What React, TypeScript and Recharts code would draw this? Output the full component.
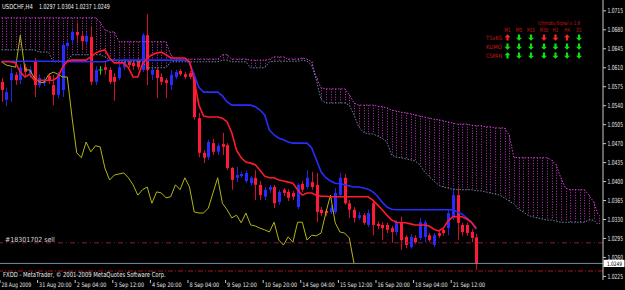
import React from 'react';
import { ComposedChart, Bar, Line, XAxis, YAxis, ReferenceLine } from 'recharts';

const FONT_NAME = 'DejaVu Sans';
const FONT = '"DejaVu Sans", Verdana, sans-serif';

const CHART_W = 625;
const CHART_H = 290;
const XAXIS_H = 10;
const YAXIS_W = 22;
const AXIS_Y = CHART_H - XAXIS_H;
const AXIS_X = CHART_W - YAXIS_W;

const symbolName = 'USDCHF,H4';
const copyrightText = 'FXDD - MetaTrader, \u00A9 2001-2009 MetaQuotes Software Corp.';

const barOpen = [
  1.0584, 1.0551, 1.0587, 1.0597, 1.0587, 1.0611, 1.0598, 1.0621, 1.0578, 1.0582,
  1.0595, 1.0578, 1.0560, 1.0569, 1.0650, 1.0661, 1.0676, 1.0669, 1.0658, 1.0667,
  1.0584, 1.0606, 1.0611, 1.0606, 1.0593, 1.0591, 1.0611, 1.0621, 1.0619, 1.0624,
  1.0606, 1.0670, 1.0597, 1.0606, 1.0593, 1.0587, 1.0578, 1.0593, 1.0604, 1.0598,
  1.0600, 1.0593, 1.0517, 1.0453, 1.0445, 1.0471, 1.0455, 1.0469, 1.0467, 1.0425,
  1.0407, 1.0410, 1.0401, 1.0397, 1.0407, 1.0394, 1.0372, 1.0385, 1.0390, 1.0362,
  1.0385, 1.0381, 1.0379, 1.0353, 1.0396, 1.0390, 1.0399, 1.0394, 1.0348, 1.0346,
  1.0344, 1.0344, 1.0375, 1.0407, 1.0360, 1.0348, 1.0333, 1.0338, 1.0320, 1.0360,
  1.0322, 1.0320, 1.0320, 1.0314, 1.0307, 1.0325, 1.0298, 1.0279, 1.0296, 1.0296,
  1.0298, 1.0301, 1.0283, 1.0305, 1.0311, 1.0314, 1.0333, 1.0375, 1.0320, 1.0320,
  1.0307, 1.0297,
];
const barHigh = [
  1.0591, 1.0573, 1.0610, 1.0602, 1.0617, 1.0617, 1.0613, 1.0628, 1.0598, 1.0593,
  1.0600, 1.0597, 1.0602, 1.0656, 1.0661, 1.0681, 1.0693, 1.0676, 1.0676, 1.0685,
  1.0613, 1.0613, 1.0621, 1.0611, 1.0600, 1.0617, 1.0626, 1.0624, 1.0624, 1.0630,
  1.0674, 1.0709, 1.0611, 1.0611, 1.0600, 1.0591, 1.0606, 1.0606, 1.0608, 1.0602,
  1.0604, 1.0600, 1.0527, 1.0458, 1.0477, 1.0479, 1.0471, 1.0490, 1.0471, 1.0427,
  1.0427, 1.0418, 1.0420, 1.0410, 1.0421, 1.0401, 1.0390, 1.0394, 1.0394, 1.0385,
  1.0388, 1.0386, 1.0383, 1.0397, 1.0401, 1.0421, 1.0418, 1.0416, 1.0353, 1.0349,
  1.0357, 1.0388, 1.0416, 1.0414, 1.0366, 1.0353, 1.0344, 1.0342, 1.0348, 1.0366,
  1.0327, 1.0325, 1.0324, 1.0318, 1.0329, 1.0335, 1.0301, 1.0303, 1.0301, 1.0333,
  1.0329, 1.0305, 1.0305, 1.0311, 1.0314, 1.0348, 1.0388, 1.0388, 1.0324, 1.0324,
  1.0312, 1.0304,
];
const barLow = [
  1.0547, 1.0539, 1.0547, 1.0578, 1.0580, 1.0595, 1.0591, 1.0556, 1.0573, 1.0576,
  1.0580, 1.0541, 1.0554, 1.0556, 1.0643, 1.0652, 1.0656, 1.0643, 1.0652, 1.0578,
  1.0578, 1.0597, 1.0597, 1.0580, 1.0549, 1.0587, 1.0606, 1.0610, 1.0606, 1.0606,
  1.0602, 1.0578, 1.0587, 1.0554, 1.0578, 1.0554, 1.0569, 1.0589, 1.0595, 1.0589,
  1.0589, 1.0514, 1.0445, 1.0434, 1.0440, 1.0449, 1.0449, 1.0449, 1.0421, 1.0385,
  1.0399, 1.0407, 1.0397, 1.0392, 1.0366, 1.0366, 1.0366, 1.0379, 1.0351, 1.0357,
  1.0373, 1.0364, 1.0366, 1.0349, 1.0381, 1.0386, 1.0385, 1.0325, 1.0336, 1.0336,
  1.0340, 1.0340, 1.0372, 1.0357, 1.0333, 1.0324, 1.0329, 1.0320, 1.0316, 1.0301,
  1.0312, 1.0292, 1.0305, 1.0287, 1.0301, 1.0274, 1.0277, 1.0276, 1.0285, 1.0292,
  1.0288, 1.0288, 1.0279, 1.0296, 1.0300, 1.0301, 1.0329, 1.0292, 1.0300, 1.0300,
  1.0288, 1.0237,
];
const barClose = [
  1.0569, 1.0565, 1.0600, 1.0587, 1.0610, 1.0602, 1.0606, 1.0578, 1.0591, 1.0587,
  1.0586, 1.0560, 1.0597, 1.0652, 1.0656, 1.0676, 1.0670, 1.0659, 1.0669, 1.0584,
  1.0606, 1.0606, 1.0606, 1.0584, 1.0584, 1.0611, 1.0621, 1.0615, 1.0613, 1.0611,
  1.0670, 1.0606, 1.0606, 1.0591, 1.0584, 1.0582, 1.0597, 1.0602, 1.0598, 1.0593,
  1.0593, 1.0519, 1.0453, 1.0444, 1.0473, 1.0455, 1.0466, 1.0464, 1.0425, 1.0403,
  1.0412, 1.0414, 1.0416, 1.0407, 1.0394, 1.0375, 1.0385, 1.0390, 1.0360, 1.0381,
  1.0379, 1.0370, 1.0372, 1.0394, 1.0385, 1.0407, 1.0390, 1.0344, 1.0342, 1.0342,
  1.0351, 1.0379, 1.0407, 1.0360, 1.0348, 1.0333, 1.0338, 1.0324, 1.0342, 1.0320,
  1.0318, 1.0314, 1.0311, 1.0307, 1.0325, 1.0292, 1.0283, 1.0298, 1.0288, 1.0325,
  1.0325, 1.0292, 1.0301, 1.0300, 1.0305, 1.0342, 1.0375, 1.0324, 1.0307, 1.0305,
  1.0296, 1.0249,
];

const tenkanSen = [
  1.0621, 1.0621, 1.0621, 1.0619, 1.0602, 1.0593, 1.0598, 1.0587, 1.0587, 1.0587,
  1.0587, 1.0587, 1.0593, 1.0611, 1.0622, 1.0624, 1.0624, 1.0624, 1.0624, 1.0630,
  1.0637, 1.0641, 1.0643, 1.0628, 1.0619, 1.0619, 1.0619, 1.0610, 1.0593, 1.0593,
  1.0617, 1.0628, 1.0634, 1.0637, 1.0639, 1.0634, 1.0628, 1.0628, 1.0628, 1.0628,
  1.0621, 1.0587, 1.0541, 1.0521, 1.0519, 1.0519, 1.0519, 1.0517, 1.0510, 1.0490,
  1.0458, 1.0444, 1.0436, 1.0434, 1.0431, 1.0421, 1.0410, 1.0407, 1.0407, 1.0403,
  1.0401, 1.0399, 1.0397, 1.0385, 1.0375, 1.0379, 1.0379, 1.0375, 1.0373, 1.0373,
  1.0372, 1.0372, 1.0372, 1.0372, 1.0372, 1.0372, 1.0372, 1.0372, 1.0372, 1.0366,
  1.0357, 1.0348, 1.0338, 1.0329, 1.0325, 1.0324, 1.0324, 1.0322, 1.0320, 1.0320,
  1.0320, 1.0318, 1.0312, 1.0309, 1.0314, 1.0327, 1.0335, 1.0335, 1.0335, 1.0331,
  1.0325, 1.0314,
];
const kijunSen = [
  1.0622, 1.0622, 1.0622, 1.0622, 1.0622, 1.0622, 1.0622, 1.0622, 1.0622, 1.0622,
  1.0622, 1.0622, 1.0622, 1.0622, 1.0621, 1.0621, 1.0621, 1.0621, 1.0621, 1.0621,
  1.0621, 1.0621, 1.0621, 1.0624, 1.0624, 1.0624, 1.0624, 1.0624, 1.0624, 1.0624,
  1.0624, 1.0624, 1.0624, 1.0624, 1.0624, 1.0624, 1.0624, 1.0624, 1.0624, 1.0624,
  1.0619, 1.0597, 1.0574, 1.0565, 1.0565, 1.0565, 1.0565, 1.0558, 1.0547, 1.0541,
  1.0541, 1.0541, 1.0541, 1.0541, 1.0538, 1.0532, 1.0523, 1.0495, 1.0486, 1.0480,
  1.0477, 1.0473, 1.0471, 1.0471, 1.0471, 1.0471, 1.0462, 1.0440, 1.0418, 1.0407,
  1.0401, 1.0397, 1.0396, 1.0394, 1.0392, 1.0390, 1.0390, 1.0388, 1.0386, 1.0381,
  1.0373, 1.0362, 1.0353, 1.0349, 1.0348, 1.0348, 1.0348, 1.0348, 1.0348, 1.0348,
  1.0348, 1.0348, 1.0348, 1.0348, 1.0348, 1.0348, 1.0348, 1.0344, 1.0340, 1.0333,
  1.0325, 1.0312,
];
const chikouSpan = [
  1.0621, 1.0615, 1.0613, 1.0611, 1.0670, 1.0606, 1.0606, 1.0591, 1.0584, 1.0582,
  1.0597, 1.0602, 1.0598, 1.0593, 1.0593, 1.0519, 1.0453, 1.0444, 1.0473, 1.0455,
  1.0466, 1.0464, 1.0425, 1.0403, 1.0412, 1.0414, 1.0416, 1.0407, 1.0394, 1.0375,
  1.0385, 1.0390, 1.0360, 1.0381, 1.0379, 1.0370, 1.0372, 1.0394, 1.0385, 1.0407,
  1.0390, 1.0344, 1.0342, 1.0342, 1.0351, 1.0379, 1.0407, 1.0360, 1.0348, 1.0333,
  1.0338, 1.0324, 1.0342, 1.0320, 1.0318, 1.0314, 1.0311, 1.0307, 1.0325, 1.0292,
  1.0283, 1.0298, 1.0288, 1.0325, 1.0325, 1.0292, 1.0301, 1.0300, 1.0305, 1.0342,
  1.0375, 1.0324, 1.0307, 1.0305, 1.0296, 1.0249,
];
const kumoUpper = [
  1.0702, 1.0702, 1.0702, 1.0702, 1.0702, 1.0702, 1.0702, 1.0702, 1.0702, 1.0702,
  1.0702, 1.0702, 1.0702, 1.0702, 1.0702, 1.0702, 1.0702, 1.0702, 1.0702, 1.0702,
  1.0702, 1.0694, 1.0680, 1.0676, 1.0676, 1.0658, 1.0658, 1.0658, 1.0658, 1.0658,
  1.0658, 1.0658, 1.0658, 1.0658, 1.0658, 1.0658, 1.0634, 1.0626, 1.0626, 1.0626,
  1.0626, 1.0626, 1.0626, 1.0626, 1.0626, 1.0626, 1.0626, 1.0634, 1.0634, 1.0626,
  1.0626, 1.0626, 1.0626, 1.0624, 1.0624, 1.0624, 1.0624, 1.0626, 1.0630, 1.0630,
  1.0630, 1.0626, 1.0626, 1.0626, 1.0628, 1.0626, 1.0621, 1.0591, 1.0573, 1.0571,
  1.0571, 1.0571, 1.0571, 1.0571, 1.0560, 1.0545, 1.0541, 1.0541, 1.0541, 1.0541,
  1.0539, 1.0538, 1.0536, 1.0532, 1.0530, 1.0528, 1.0527, 1.0525, 1.0523, 1.0521,
  1.0519, 1.0517, 1.0515, 1.0514, 1.0512, 1.0510, 1.0508, 1.0506, 1.0506, 1.0506,
  1.0504, 1.0503, 1.0503, 1.0501, 1.0501, 1.0499, 1.0499, 1.0499, 1.0486, 1.0445,
  1.0444, 1.0444, 1.0444, 1.0444, 1.0444, 1.0444, 1.0444, 1.0440, 1.0431, 1.0407,
  1.0388, 1.0385, 1.0385, 1.0385, 1.0385, 1.0375, 1.0362, 1.0338,
];
const kumoLower = [
  1.0643, 1.0643, 1.0643, 1.0643, 1.0643, 1.0643, 1.0643, 1.0643, 1.0639, 1.0639,
  1.0639, 1.0621, 1.0621, 1.0621, 1.0621, 1.0634, 1.0634, 1.0634, 1.0634, 1.0634,
  1.0634, 1.0634, 1.0630, 1.0624, 1.0624, 1.0621, 1.0621, 1.0621, 1.0621, 1.0621,
  1.0621, 1.0610, 1.0610, 1.0610, 1.0610, 1.0610, 1.0621, 1.0621, 1.0621, 1.0621,
  1.0621, 1.0621, 1.0621, 1.0621, 1.0621, 1.0621, 1.0621, 1.0624, 1.0624, 1.0621,
  1.0621, 1.0621, 1.0621, 1.0610, 1.0610, 1.0610, 1.0610, 1.0621, 1.0622, 1.0622,
  1.0622, 1.0622, 1.0622, 1.0622, 1.0624, 1.0622, 1.0615, 1.0587, 1.0551, 1.0545,
  1.0545, 1.0545, 1.0545, 1.0545, 1.0541, 1.0523, 1.0501, 1.0491, 1.0488, 1.0488,
  1.0484, 1.0480, 1.0473, 1.0449, 1.0445, 1.0444, 1.0442, 1.0440, 1.0438, 1.0431,
  1.0418, 1.0409, 1.0401, 1.0394, 1.0390, 1.0388, 1.0386, 1.0385, 1.0385, 1.0385,
  1.0385, 1.0383, 1.0383, 1.0381, 1.0379, 1.0377, 1.0375, 1.0370, 1.0364, 1.0359,
  1.0349, 1.0344, 1.0338, 1.0335, 1.0333, 1.0331, 1.0329, 1.0329, 1.0327, 1.0325,
  1.0325, 1.0325, 1.0325, 1.0325, 1.0325, 1.0329, 1.0329, 1.0320,
];

const dateTickIndex = [0, 8, 16, 24, 32, 40, 48, 56, 64, 72, 80, 88, 96];
const dateTickLabels = [
  '28 Aug 2009', '31 Aug 20:00', '2 Sep 04:00', '3 Sep 12:00', '4 Sep 20:00',
  '8 Sep 04:00', '9 Sep 12:00', '10 Sep 20:00', '14 Sep 04:00', '15 Sep 12:00',
  '16 Sep 20:00', '18 Sep 04:00', '21 Sep 12:00',
];
const priceTicks = [
  1.0225, 1.0260, 1.0295, 1.0330, 1.0365, 1.0400, 1.0435, 1.0470,
  1.0505, 1.0540, 1.0575, 1.0610, 1.0645, 1.0680, 1.0715,
];
const priceDomain = [1.02184, 1.0735];
const indexDomain = [-0.319, 127.98];

const orderPrice = 1.0287;
const orderTicket = '#18301702';
const orderSide = 'sell';
const bidPrice = 1.0249;
const stopPrice = 1.0235;

const signalTitle = 'Ichimoku Signal v. 1.6';
const signalTimeframes = ['M1', 'M5', 'M15', 'M30', 'H1', 'H4', 'D1'];
const signalRowNames = ['TSxKS', 'KUMO', 'CSPAN'];
const signalTSxKS = ['ru', 'gd', 'gd', 'rd', 'rd', 'ru', 'gd'];
const signalKUMO = ['gd', 'gd', 'gd', 'gd', 'gd', 'gd', 'gd'];
const signalCSPAN = ['gu', 'gd', 'gd', 'gd', 'gd', 'gd', 'gd'];
const signalRows = [signalTSxKS, signalKUMO, signalCSPAN];

const rows = kumoUpper.map((up, i) => {
  const has = i < barOpen.length;
  return {
    i,
    candle: has ? [barLow[i], barHigh[i]] : null,
    o: has ? barOpen[i] : null,
    h: has ? barHigh[i] : null,
    l: has ? barLow[i] : null,
    c: has ? barClose[i] : null,
    tenkan: i < tenkanSen.length ? tenkanSen[i] : null,
    kijun: i < kijunSen.length ? kijunSen[i] : null,
    chikou: i < chikouSpan.length ? chikouSpan[i] : null,
    kumo: [kumoLower[i], up],
    kumoTop: up,
    kumoBottom: kumoLower[i],
  };
});

let measureCtx: any = null;
const naturalWidth = (text: string, size: number) => {
  if (typeof document !== 'undefined' && !measureCtx) {
    measureCtx = document.createElement('canvas').getContext('2d');
  }
  if (!measureCtx) return text.length * size * 0.6;
  measureCtx.font = `${size}px "${FONT_NAME}"`;
  return measureCtx.measureText(text).width || text.length * size * 0.6;
};

// Text squeezed horizontally to a target width (the reference is a downscaled screenshot).
const FitText = ({ x, y, width, size, fill, anchor = 'start', children }: any) => {
  const text = String(children);
  const sx = Math.min(1, width / naturalWidth(text, size));
  return (
    <text transform={`translate(${x} ${y}) scale(${sx} 1)`} x={0} y={0} fill={fill}
      fontSize={size} fontFamily={FONT} textAnchor={anchor}>{text}</text>
  );
};

const Candle = (props: any) => {
  const { x, y, width, height } = props;
  const p = props.payload || props;
  if (p == null || p.o == null || x == null) return null;
  const top = Math.min(y, y + height);
  const bot = Math.max(y, y + height);
  const span = p.h - p.l;
  const k = span > 0 ? (bot - top) / span : 0;
  const yO = top + (p.h - p.o) * k;
  const yC = top + (p.h - p.c) * k;
  const cx = Math.round(x + width / 2) + 0.5;
  const doji = p.o === p.c;
  const bull = p.c > p.o;
  const body = doji ? '#20d020' : bull ? '#2a2aff' : '#ff1a3a';
  const wick = doji ? '#20d020' : bull ? '#2424e0' : '#d01030';
  return (
    <g>
      <line x1={cx} x2={cx} y1={top} y2={bot} stroke={wick} strokeWidth={1} />
      {doji ? (
        <line x1={cx - 2} x2={cx + 2} y1={yO} y2={yO} stroke={body} strokeWidth={1} />
      ) : (
        <rect x={cx - 1.5} y={Math.min(yO, yC)} width={3} height={Math.max(1, Math.abs(yC - yO))} fill={body} />
      )}
    </g>
  );
};

const KumoStroke = (props: any) => {
  const { x, y, width, height } = props;
  if (x == null || y == null) return null;
  const cx = Math.round(x + width / 2) + 0.5;
  const top = Math.min(y, y + height);
  const bot = Math.max(y, y + height);
  return <line x1={cx} x2={cx} y1={top} y2={bot} stroke="#b830b8" strokeWidth={1} strokeDasharray="1 1.6" />;
};

const DateTick = (props: any) => {
  const { x, payload } = props;
  const idx = dateTickIndex.indexOf(payload.value);
  const label = idx >= 0 ? dateTickLabels[idx] : '';
  return (
    <g>
      <line x1={x - 1.5} x2={x - 1.5} y1={AXIS_Y} y2={AXIS_Y + 3} stroke="#c8c8c8" strokeWidth={1} />
      <FitText x={x} y={AXIS_Y + 6.9} width={label.length * 2.7} size={6.2} fill="#e8e8e8">{label}</FitText>
    </g>
  );
};

const PriceTick = (props: any) => {
  const { y, payload } = props;
  const label = Number(payload.value).toFixed(4);
  return (
    <g>
      <line x1={AXIS_X} x2={AXIS_X + 3} y1={y} y2={y} stroke="#c8c8c8" strokeWidth={1} />
      <FitText x={AXIS_X + 4.5} y={y + 2.5} width={15.5} size={7} fill="#e8e8e8">{label}</FitText>
    </g>
  );
};

const OrderLabel = (props: any) => {
  const vb = props.viewBox || {};
  const label = `${orderTicket} ${orderSide}`;
  return (
    <FitText x={(vb.x || 0) + 5} y={(vb.y || 0) - 1} width={50} size={7} fill="#d8d8d8">{label}</FitText>
  );
};

const BidLabel = (props: any) => {
  const vb = props.viewBox || {};
  const x0 = (vb.x || 0) + (vb.width || 0);
  const y0 = vb.y || 0;
  return (
    <g>
      <rect x={x0 + 0.5} y={y0 - 3.6} width={21} height={7.2} fill="#ffffff" />
      <FitText x={x0 + 4} y={y0 + 2.3} width={15} size={6} fill="#000000">{bidPrice.toFixed(4)}</FitText>
    </g>
  );
};

const arrowPath = (cx: number, cy: number, up: boolean) => {
  const s = up ? -1 : 1;
  return `M${cx} ${cy + 3.3 * s} L${cx + 3} ${cy + 0.2 * s} L${cx + 1.1} ${cy + 0.2 * s} L${cx + 1.1} ${cy - 3 * s} L${cx - 1.1} ${cy - 3 * s} L${cx - 1.1} ${cy + 0.2 * s} L${cx - 3} ${cy + 0.2 * s} Z`;
};

const colX = [507.5, 519, 531, 544, 555.5, 567, 579];
const headerLen = [6.5, 6.5, 8, 8.5, 5.5, 5.5, 5.5];
const rowY = [37.5, 46.5, 55.5];

const Overlay = () => {
  const last = barOpen.length - 1;
  const ohlc = [barOpen[last], barHigh[last], barLow[last], barClose[last]].map((v) => v.toFixed(4)).join(' ');
  return (
    <svg width={CHART_W} height={CHART_H} style={{ position: 'absolute', left: 0, top: 0, pointerEvents: 'none' }}>
      <FitText x={2} y={8.6} width={31} size={7} fill="#f0f0f0">{symbolName}</FitText>
      <FitText x={39} y={8.6} width={71} size={7} fill="#f0f0f0">{ohlc}</FitText>
      <FitText x={3} y={277.2} width={163} size={7} fill="#e8e8e8">{copyrightText}</FitText>
      <FitText x={538} y={25.2} width={42} size={5.8} fill="#c81818">{signalTitle}</FitText>
      {signalTimeframes.map((t, k) => (
        <FitText key={t} x={colX[k]} y={32.2} width={headerLen[k]} size={5.8} fill="#c81818" anchor="middle">{t}</FitText>
      ))}
      {signalRowNames.map((n, r) => (
        <FitText key={n} x={502} y={rowY[r] + 2.2} width={16} size={6} fill="#c81818" anchor="end">{n}</FitText>
      ))}
      {signalRows.map((row, r) =>
        row.map((s, k) => (
          <path key={`${r}-${k}`} d={arrowPath(colX[k], rowY[r], s[1] === 'u')}
            fill={s[0] === 'g' ? '#10e010' : '#ff2030'} />
        ))
      )}
    </svg>
  );
};

export default function App() {
  return (
    <div style={{ position: 'absolute', left: 0, top: 0, width: CHART_W, height: CHART_H, background: '#000000', overflow: 'hidden' }}>
      <ComposedChart width={CHART_W} height={CHART_H} data={rows} margin={{ top: 0, right: 0, bottom: 0, left: 0 }}>
        <XAxis xAxisId="main" dataKey="i" type="number" domain={indexDomain} allowDataOverflow
          ticks={dateTickIndex} interval={0} height={XAXIS_H} tickSize={0} tickMargin={0} tickLine={false}
          axisLine={{ stroke: '#c8c8c8' }} tick={(p: any) => <DateTick {...p} />} />
        <XAxis xAxisId="kumo" dataKey="i" type="number" domain={indexDomain} allowDataOverflow hide />
        <YAxis yAxisId="p" orientation="right" width={YAXIS_W} type="number" domain={priceDomain} allowDataOverflow
          ticks={priceTicks} interval={0} tickSize={0} tickMargin={0} tickLine={false}
          axisLine={{ stroke: '#c8c8c8' }} tick={(p: any) => <PriceTick {...p} />} />
        <Bar xAxisId="kumo" yAxisId="p" dataKey="kumo" barSize={1} shape={(p: any) => <KumoStroke {...p} />} isAnimationActive={false} />
        <Line xAxisId="main" yAxisId="p" dataKey="kumoTop" stroke="#d040d0" strokeWidth={1} strokeDasharray="1.5 1.5" dot={false} activeDot={false} isAnimationActive={false} />
        <Line xAxisId="main" yAxisId="p" dataKey="kumoBottom" stroke="#6a8c9c" strokeWidth={1} strokeDasharray="1.5 1.5" dot={false} activeDot={false} isAnimationActive={false} />
        <ReferenceLine xAxisId="main" yAxisId="p" y={orderPrice} stroke="#8a1a50" strokeDasharray="5 3 1 3" strokeWidth={1} label={(p: any) => <OrderLabel {...p} />} />
        <ReferenceLine xAxisId="main" yAxisId="p" y={bidPrice} stroke="#7a8a98" strokeWidth={1} label={(p: any) => <BidLabel {...p} />} />
        <ReferenceLine xAxisId="main" yAxisId="p" y={stopPrice} stroke="#b01010" strokeDasharray="5 2 1 2" strokeWidth={1} />
        <Bar xAxisId="main" yAxisId="p" dataKey="candle" barSize={3} shape={(p: any) => <Candle {...p} />} isAnimationActive={false} />
        <Line xAxisId="main" yAxisId="p" dataKey="chikou" stroke="#b4b414" strokeWidth={1} dot={false} activeDot={false} isAnimationActive={false} />
        <Line xAxisId="main" yAxisId="p" dataKey="kijun" stroke="#2b2bff" strokeWidth={1.6} dot={false} activeDot={false} isAnimationActive={false} />
        <Line xAxisId="main" yAxisId="p" dataKey="tenkan" stroke="#ff1a2e" strokeWidth={1.6} dot={false} activeDot={false} isAnimationActive={false} />
      </ComposedChart>
      <Overlay />
    </div>
  );
}
